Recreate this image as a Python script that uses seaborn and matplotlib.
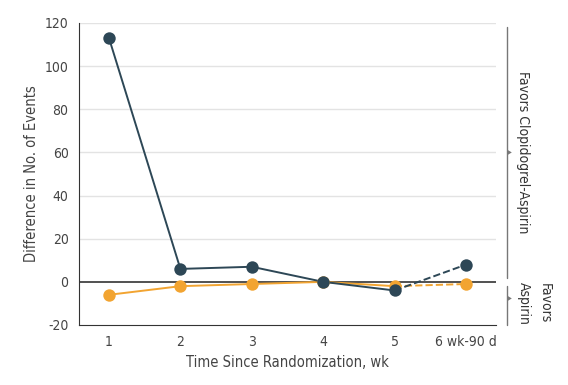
import seaborn as sns
import matplotlib.pyplot as plt
import pandas as pd

weeks = [1, 2, 3, 4, 5, 6]
week_labels = ["1", "2", "3", "4", "5", "6 wk-90 d"]
clop_asp = [113, 6, 7, 0, -4, 8]
asp_only = [-6, -2, -1, 0, -2, -1]

dark = "#2d4756"
orange = "#f2a431"

sns.set_style("white")
plt.rcParams['font.family'] = ['DejaVu Sans']
plt.rcParams['font.stretch'] = 'condensed'
plt.rcParams['axes.unicode_minus'] = False

fig = plt.figure(figsize=(5.68, 3.85), dpi=100)
ax = fig.add_axes([79 / 568, 60 / 385, 417 / 568, 302 / 385])

df = pd.DataFrame({"week": weeks, "a": clop_asp, "b": asp_only})
solid = df.iloc[:5]
tail = df.iloc[4:]

for col, c in [("b", orange), ("a", dark)]:
    sns.lineplot(data=solid, x="week", y=col, color=c, lw=1.4, ax=ax)
    sns.lineplot(data=tail, x="week", y=col, color=c, lw=1.4, ls="--", ax=ax)
    sns.scatterplot(data=df, x="week", y=col, color=c, s=80, edgecolor=c,
                    linewidth=0, ax=ax, zorder=5)

ax.set_xlim(0.58, 6.42)
ax.set_ylim(-20, 120)
ax.set_yticks(range(-20, 121, 20))
ax.set_xticks(weeks)
ax.set_xticklabels(week_labels)
for y in range(20, 121, 20):
    ax.axhline(y, color="#e3e3e3", lw=1, zorder=0)
ax.axhline(0, color="#333333", lw=1.2, zorder=1)

sns.despine(ax=ax)
ax.spines["left"].set_color("#333333")
ax.spines["bottom"].set_color("#333333")
ax.tick_params(axis="both", direction="out", length=4, color="#333333",
               labelsize=10, labelcolor="#444444")
ax.set_xlabel("Time Since Randomization, wk", fontsize=10.5, color="#444444")
ax.set_ylabel("Difference in No. of Events", fontsize=10.5, color="#444444")

# right-hand brackets
bx = 507 / 568
def yf(v):
    return (60 + (v + 20) / 140 * 302) / 385

fig.add_artist(plt.Line2D([bx, bx], [yf(118), yf(2)], color="#777777", lw=1,
                          transform=fig.transFigure))
fig.add_artist(plt.Line2D([bx, bx], [yf(-2), yf(-20)], color="#777777", lw=1,
                          transform=fig.transFigure))
for ym in [60, -8]:
    fig.text(bx + 0.002, yf(ym), "\u25b6", fontsize=4, color="#777777",
             va="center", ha="left")
fig.text(bx + 0.028, yf(60), "Favors Clopidogrel-Aspirin", rotation=-90,
         fontsize=10, color="#333333", va="center", ha="center")
fig.text(bx + 0.048, 60 / 385, "Favors\nAspirin", rotation=-90, fontsize=10,
         color="#333333", va="bottom", ha="center", linespacing=1.6)

fig.savefig("out.png", dpi=100)
